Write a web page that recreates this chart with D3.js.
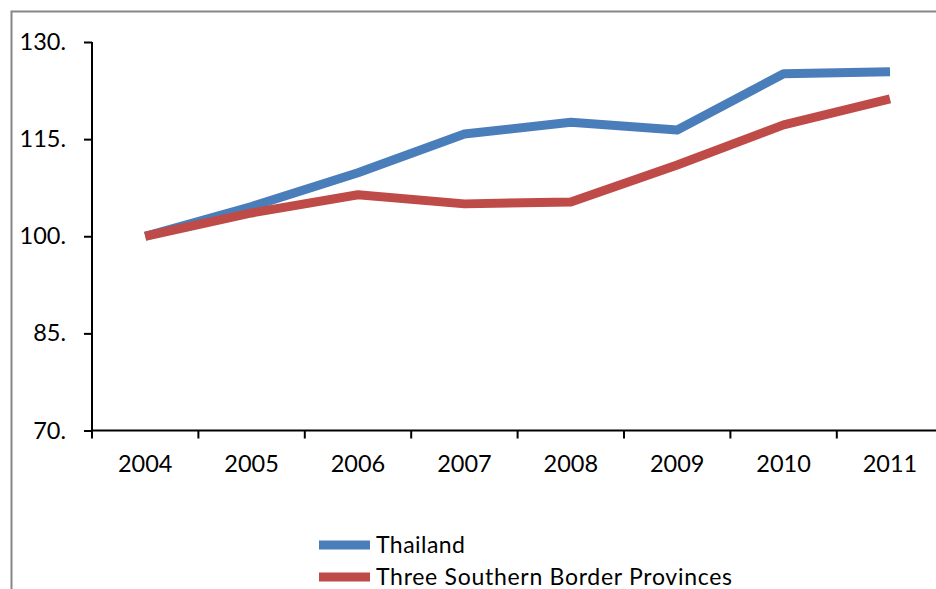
<!DOCTYPE html>
<html>
<head>
<meta charset="utf-8">
<script src="https://cdn.jsdelivr.net/npm/d3@7"></script>
<style>
  html, body { margin: 0; padding: 0; background: #fff; }
  svg { display: block; }
  text { font-family: Lato, "Open Sans", sans-serif; fill: #000; }
</style>
</head>
<body>
<svg id="chart" width="936" height="589"></svg>
<script>
// Index values (2004 = 100)
const years = ["2004", "2005", "2006", "2007", "2008", "2009", "2010", "2011"];
const thailand = [100, 104.6, 109.8, 115.8, 117.6, 116.4, 125.1, 125.4];
const southern = [100, 103.6, 106.4, 105.0, 105.3, 111.0, 117.2, 121.2];
const seriesNames = ["Thailand", "Three Southern Border Provinces"];
const seriesColors = ["#4a7ebb", "#be4b48"];
const yTicks = [70, 85, 100, 115, 130];

const svg = d3.select("#chart");

// Outer chart frame (only top and left edges fall inside the view)
svg.append("path")
  .attr("d", "M11.5,589 L11.5,11.5 L936,11.5")
  .attr("fill", "none")
  .attr("stroke", "#868686")
  .attr("stroke-width", 2);

const x = d3.scaleBand().domain(years).range([92, 943.2]).padding(0);
const y = d3.scaleLinear().domain([70, 130]).range([430.5, 42]);

// Y axis
const yAxis = svg.append("g")
  .attr("transform", "translate(92,0)")
  .call(d3.axisLeft(y).tickValues(yTicks).tickFormat(d => d + ".").tickSize(8).tickPadding(18));
yAxis.selectAll("path, line").attr("stroke", "#000").attr("stroke-width", 2);
yAxis.select(".domain").attr("d", `M0,${y(130)}V${y(70)}`);
yAxis.selectAll("text").style("font-size", "23.5px").attr("font-family", null);

// X axis with ticks at category boundaries
const xAxis = svg.append("g").attr("transform", `translate(0,${y(70)})`);
xAxis.append("line")
  .attr("x1", 92).attr("x2", 936)
  .attr("stroke", "#000").attr("stroke-width", 2);
const boundaries = years.map(d => x(d)).concat([x(years[years.length - 1]) + x.bandwidth()]);
xAxis.selectAll("line.tick").data(boundaries).join("line")
  .attr("class", "tick")
  .attr("x1", d => d).attr("x2", d => d)
  .attr("y1", 0).attr("y2", 8)
  .attr("stroke", "#000").attr("stroke-width", 2);
xAxis.selectAll("text").data(years).join("text")
  .attr("x", d => x(d) + x.bandwidth() / 2)
  .attr("y", 41.5)
  .attr("text-anchor", "middle")
  .style("font-size", "23.5px")
  .text(d => d);

// Lines
const line = d3.line()
  .x((d, i) => x(years[i]) + x.bandwidth() / 2)
  .y(d => y(d));

[thailand, southern].forEach((vals, i) => {
  svg.append("path")
    .datum(vals)
    .attr("d", line)
    .attr("fill", "none")
    .attr("stroke", seriesColors[i])
    .attr("stroke-width", 9)
    .attr("stroke-linejoin", "round")
    .attr("stroke-linecap", "butt");
});

// Legend
const legendWidths = [89, 356];
const legend = svg.append("g");
seriesNames.forEach((name, i) => {
  const ly = 545 + i * 32;
  legend.append("line")
    .attr("x1", 319).attr("x2", 370)
    .attr("y1", ly).attr("y2", ly)
    .attr("stroke", seriesColors[i])
    .attr("stroke-width", 9);
  legend.append("text")
    .attr("x", 376)
    .attr("y", ly + 7.5)
    .attr("textLength", legendWidths[i])
    .attr("lengthAdjust", "spacing")
    .style("font-size", "23px")
    .text(name);
});
</script>
</body>
</html>
